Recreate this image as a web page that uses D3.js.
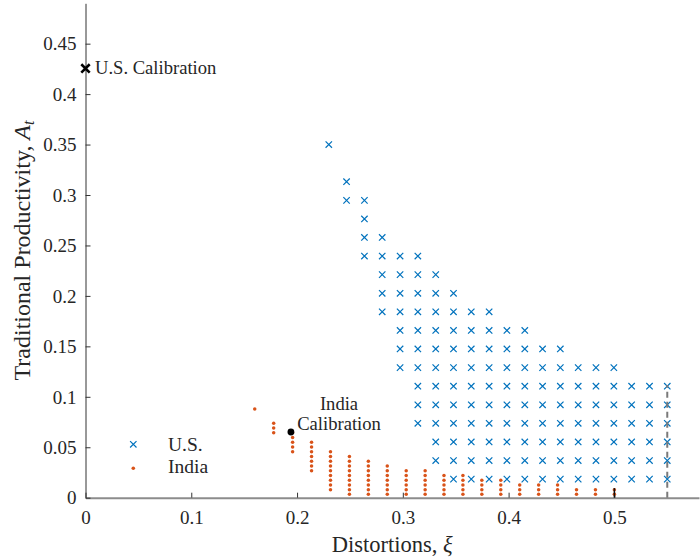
<!DOCTYPE html>
<html>
<head>
<meta charset="utf-8">
<script src="https://cdn.jsdelivr.net/npm/d3@7"></script>
<style>
  html, body { margin: 0; padding: 0; background: #fff; }
  svg { display: block; }
  text { font-family: "Liberation Serif", "DejaVu Serif", serif; fill: #262626; }
</style>
</head>
<body>
<div id="chart"></div>
<script>
// ---------------- data ----------------
// U.S. grid: column x positions, row y positions, and per-column row index ranges
const usX = [0.2300, 0.2468, 0.2637, 0.2805, 0.2974, 0.3142, 0.3311, 0.3479, 0.3647, 0.3816,
             0.3984, 0.4153, 0.4321, 0.4489, 0.4658, 0.4826, 0.4995, 0.5163, 0.5332, 0.5500];
const usY = [0.0184, 0.0368, 0.0553, 0.0737, 0.0921, 0.1105, 0.1289, 0.1474, 0.1658, 0.1842,
             0.2026, 0.2211, 0.2395, 0.2579, 0.2763, 0.2947, 0.3132, 0.3316, 0.3500];
const usRowLow  = [18, 15, 12, 9, 6, 3, 1, 0, 0, 0, 0, 0, 0, 0, 0, 0, 0, 0, 0, 0];
const usRowHigh = [18, 16, 15, 13, 12, 12, 11, 10, 9, 9, 8, 8, 7, 7, 6, 6, 6, 5, 5, 5];

// India grid
const indiaX = [0.1600, 0.1779, 0.1958, 0.2137, 0.2316, 0.2495, 0.2674, 0.2853, 0.3032, 0.3211,
                0.3389, 0.3568, 0.3747, 0.3926, 0.4105, 0.4284, 0.4463, 0.4642, 0.4821, 0.5000];
const indiaY = [0.0033, 0.0080, 0.0127, 0.0174, 0.0221, 0.0268, 0.0315, 0.0362, 0.0409, 0.0456,
                0.0503, 0.0550, 0.0597, 0.0644, 0.0691, 0.0738, 0.0785, 0.0832, 0.0879];
const indiaRowLow  = [18, 13, 9, 5, 1, 0, 0, 0, 0, 0, 0, 0, 0, 0, 0, 0, 0, 0, 0, 0];
const indiaRowHigh = [18, 15, 13, 11, 9, 8, 7, 6, 5, 5, 4, 4, 3, 3, 2, 2, 2, 1, 1, 1];

// calibration points
const usCalibration = { x: 0, y: 0.4254, label: "U.S. Calibration" };
const indiaCalibration = { x: 0.1942, y: 0.0651, label: ["India", "Calibration"] };

// reference lines
const dashedLine = { x: 0.55, y0: 0, y1: 0.1117 };
const blackLine  = { x: 0.50, y0: 0, y1: 0.0095 };

// axes
const xTicks = [0, 0.1, 0.2, 0.3, 0.4, 0.5];
const xTickLabels = ["0", "0.1", "0.2", "0.3", "0.4", "0.5"];
const yTicks = [0, 0.05, 0.1, 0.15, 0.2, 0.25, 0.3, 0.35, 0.4, 0.45];
const yTickLabels = ["0", "0.05", "0.1", "0.15", "0.2", "0.25", "0.3", "0.35", "0.4", "0.45"];
const xDomain = [0, 0.58];
const yDomain = [0, 0.49];

const legendItems = ["U.S.", "India"];

// ---------------- build points ----------------
const usPoints = [];
usX.forEach((xv, c) => {
  for (let r = usRowLow[c]; r <= usRowHigh[c]; r++) usPoints.push({ x: xv, y: usY[r] });
});
const indiaPoints = [];
indiaX.forEach((xv, c) => {
  for (let r = indiaRowLow[c]; r <= indiaRowHigh[c]; r++) indiaPoints.push({ x: xv, y: indiaY[r] });
});

// ---------------- drawing ----------------
const W = 700, H = 558;
const mLeft = 85.5, mRight = 699, mTop = 3.3, mBottom = 497.7;
const blue = "#0072BD", orange = "#D95319";

const svg = d3.select("#chart").append("svg").attr("width", W).attr("height", H);

const x = d3.scaleLinear().domain(xDomain).range([mLeft, mRight]);
const y = d3.scaleLinear().domain(yDomain).range([mBottom, mTop]);

// axes
const xAxis = d3.axisBottom(x).tickValues(xTicks).tickFormat((d, i) => xTickLabels[i])
  .tickSizeInner(-5).tickSizeOuter(0).tickPadding(13);
const yAxis = d3.axisLeft(y).tickValues(yTicks).tickFormat((d, i) => yTickLabels[i])
  .tickSizeInner(-5).tickSizeOuter(0).tickPadding(9);

const gx = svg.append("g").attr("transform", `translate(0,${mBottom})`).call(xAxis);
gx.select(".domain").attr("stroke", "#8c8c8c").attr("stroke-width", 2);
gx.selectAll(".tick line").attr("stroke", "#333");
gx.selectAll(".tick text").attr("font-family", "Liberation Serif").attr("font-size", 19)
  .attr("fill", "#262626").attr("dy", null).attr("y", 26.5);

const gy = svg.append("g").attr("transform", `translate(${mLeft},0)`).call(yAxis);
gy.select(".domain").attr("stroke", "#333").attr("stroke-width", 1);
gy.selectAll(".tick line").attr("stroke", "#333");
gy.selectAll(".tick text").attr("font-family", "Liberation Serif").attr("font-size", 19)
  .attr("fill", "#262626").attr("dy", "0.33em");

// U.S. crosses
const cs = 3.2;
const crossPath = s => `M${-s},${-s}L${s},${s}M${-s},${s}L${s},${-s}`;
svg.append("g").selectAll("path").data(usPoints).join("path")
  .attr("transform", d => `translate(${x(d.x)},${y(d.y)})`)
  .attr("d", crossPath(cs))
  .attr("stroke", blue).attr("stroke-width", 1.2).attr("fill", "none");

// India dots
svg.append("g").selectAll("circle").data(indiaPoints).join("circle")
  .attr("cx", d => x(d.x)).attr("cy", d => y(d.y)).attr("r", 1.75)
  .attr("fill", orange);

// reference lines
svg.append("line")
  .attr("x1", x(dashedLine.x)).attr("x2", x(dashedLine.x))
  .attr("y1", y(dashedLine.y0)).attr("y2", y(dashedLine.y1))
  .attr("stroke", "#7a7a7a").attr("stroke-width", 2).attr("stroke-dasharray", "6,4");
svg.append("line")
  .attr("x1", x(blackLine.x)).attr("x2", x(blackLine.x))
  .attr("y1", y(blackLine.y0)).attr("y2", y(blackLine.y1))
  .attr("stroke", "#111").attr("stroke-width", 1.5);

// axis titles
svg.append("text").attr("x", (mLeft + mRight) / 2).attr("y", 552)
  .attr("text-anchor", "middle").attr("font-size", 22.5)
  .html('Distortions, <tspan font-style="italic">ξ</tspan>');
svg.append("text")
  .attr("transform", `translate(30,${(mTop + mBottom) / 2}) rotate(-90)`)
  .attr("text-anchor", "middle").attr("font-size", 24)
  .html('Traditional Productivity, <tspan font-style="italic">A</tspan><tspan font-style="italic" font-size="16" dy="4">t</tspan>');

// U.S. calibration
svg.append("path")
  .attr("transform", `translate(${x(usCalibration.x)},${y(usCalibration.y)})`)
  .attr("d", crossPath(4.2)).attr("stroke", "#000").attr("stroke-width", 2.6).attr("fill", "none");
svg.append("text").attr("x", 95).attr("y", 74).attr("font-size", 18.6).text(usCalibration.label);

// India calibration
svg.append("circle").attr("cx", x(indiaCalibration.x)).attr("cy", y(indiaCalibration.y))
  .attr("r", 3.4).attr("fill", "#000");
svg.append("text").attr("x", 339).attr("y", 410).attr("text-anchor", "middle").attr("font-size", 18.6)
  .text(indiaCalibration.label[0]);
svg.append("text").attr("x", 339).attr("y", 430).attr("text-anchor", "middle").attr("font-size", 18.6)
  .text(indiaCalibration.label[1]);

// legend
const lg = svg.append("g");
lg.append("path").attr("transform", "translate(133.3,444.3)").attr("d", crossPath(cs))
  .attr("stroke", blue).attr("stroke-width", 1.2).attr("fill", "none");
lg.append("circle").attr("cx", 133.3).attr("cy", 468.3).attr("r", 1.8).attr("fill", orange);
lg.append("text").attr("x", 168).attr("y", 450.5).attr("font-size", 19.5).text(legendItems[0]);
lg.append("text").attr("x", 168).attr("y", 473).attr("font-size", 19.5).text(legendItems[1]);
</script>
</body>
</html>
